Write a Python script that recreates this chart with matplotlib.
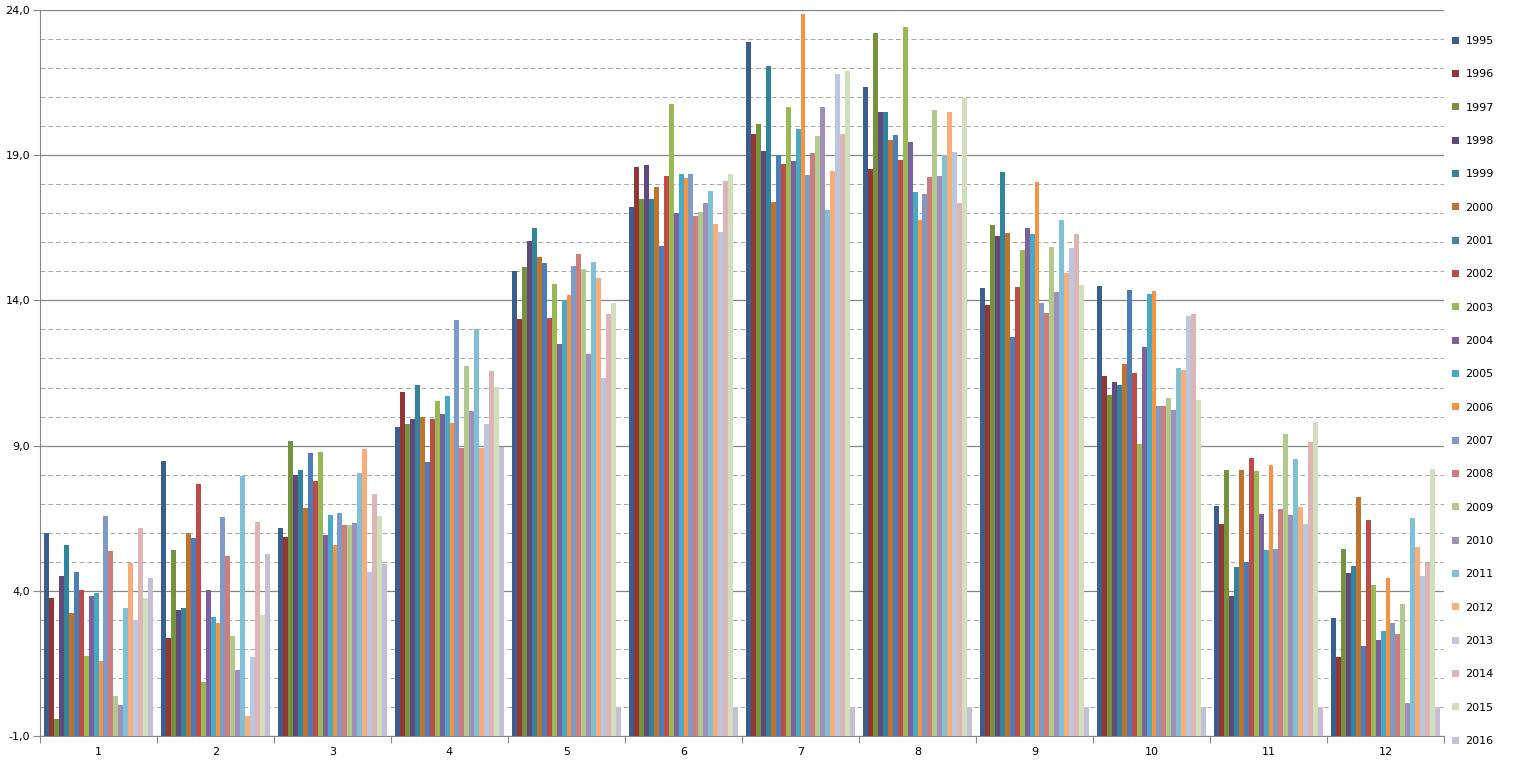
import matplotlib
matplotlib.use("Agg")
import matplotlib.pyplot as plt
from matplotlib.ticker import MultipleLocator, FixedLocator, FuncFormatter, NullFormatter
import numpy as np

# months on the x axis
months = ["1", "2", "3", "4", "5", "6", "7", "8", "9", "10", "11", "12"]

# one list per year, values per month
y1995 = [5.98, 8.47, 6.16, 9.64, 15.01, 17.23, 22.91, 21.34, 14.42, 14.50, 6.92, 3.06]
y1996 = [3.75, 2.37, 5.85, 10.85, 13.37, 18.60, 19.73, 18.51, 13.84, 11.40, 6.30, 1.72]
y1997 = [-0.41, 5.40, 9.16, 9.74, 15.14, 17.49, 20.06, 23.22, 16.60, 10.74, 8.16, 5.44]
y1998 = [4.51, 3.34, 7.99, 9.92, 16.03, 18.67, 19.13, 20.49, 16.23, 11.19, 3.82, 4.61]
y1999 = [5.58, 3.40, 8.16, 11.09, 16.49, 17.49, 22.08, 20.49, 18.43, 11.09, 4.82, 4.85]
y2000 = [3.24, 5.98, 6.85, 9.98, 15.49, 17.89, 17.38, 19.52, 16.31, 11.81, 8.16, 7.23]
y2001 = [4.65, 5.81, 8.75, 8.44, 15.28, 15.87, 19.00, 19.68, 12.73, 14.36, 4.99, 2.10]
y2002 = [4.03, 7.68, 7.78, 9.92, 13.41, 18.30, 18.71, 18.82, 14.45, 11.49, 8.57, 6.44]
y2003 = [1.75, 0.85, 8.78, 10.54, 14.56, 20.77, 20.67, 23.40, 15.73, 9.06, 8.14, 4.20]
y2004 = [3.83, 4.02, 5.92, 10.09, 12.50, 17.00, 18.79, 19.47, 16.49, 12.40, 6.64, 2.31]
y2005 = [3.92, 3.10, 6.61, 10.71, 14.00, 18.36, 19.91, 17.73, 16.29, 14.22, 5.40, 2.62]
y2006 = [1.58, 2.89, 5.58, 9.78, 14.19, 18.23, 23.87, 16.76, 18.08, 14.32, 8.34, 4.44]
y2007 = [6.58, 6.54, 6.68, 13.33, 15.17, 18.36, 18.33, 17.65, 13.90, 10.36, 5.44, 2.89]
y2008 = [5.37, 5.20, 6.27, 8.92, 15.59, 16.89, 19.06, 18.24, 13.56, 10.36, 6.82, 2.51]
y2009 = [0.38, 2.44, 6.27, 11.74, 15.07, 17.06, 19.65, 20.54, 15.83, 10.64, 9.40, 3.55]
y2010 = [0.07, 1.27, 6.33, 10.19, 12.15, 17.37, 20.67, 18.27, 14.29, 10.23, 6.61, 0.14]
y2011 = [3.41, 7.96, 8.06, 13.02, 15.31, 17.77, 17.13, 19.00, 16.77, 11.67, 8.54, 6.51]
y2012 = [4.97, -0.31, 8.88, 8.92, 14.77, 16.64, 18.45, 20.48, 14.95, 11.60, 6.89, 5.51]
y2013 = [3.00, 1.71, 4.65, 9.74, 11.33, 16.36, 21.78, 19.10, 15.81, 13.46, 6.30, 4.51]
y2014 = [6.16, 6.37, 7.33, 11.57, 13.52, 18.11, 19.73, 17.34, 16.29, 13.53, 9.12, 4.96]
y2015 = [3.75, 3.17, 6.58, 11.02, 13.91, 18.36, 21.89, 20.98, 14.52, 10.57, 9.81, 8.19]
y2016 = [4.45, 5.27, 4.92, 8.95, 0.0, 0.0, 0.0, 0.0, 0.0, 0.0, 0.0, 0.0]

years = ["1995", "1996", "1997", "1998", "1999", "2000", "2001", "2002",
         "2003", "2004", "2005", "2006", "2007", "2008", "2009", "2010",
         "2011", "2012", "2013", "2014", "2015", "2016"]
series = [y1995, y1996, y1997, y1998, y1999, y2000, y2001, y2002,
          y2003, y2004, y2005, y2006, y2007, y2008, y2009, y2010,
          y2011, y2012, y2013, y2014, y2015, y2016]

# excel-like palette (dark, base, light, lighter)
colors = ["#3A5F8F", "#943634", "#76923C", "#5F4A7B", "#31849B", "#C0722F",
          "#4A7EBB", "#BE4B48", "#98B954", "#7D60A0", "#46AAC5", "#F69240",
          "#7E9BC8", "#CD7E7C", "#B1C98C", "#A08FB8", "#7EC1D7", "#F9AD7A",
          "#B9C7E0", "#DDB5B4", "#D0E0BC", "#C6BED6"]

fig = plt.figure(figsize=(15.14, 7.63), dpi=100)
ax = fig.add_axes([40/1514, 1 - 736/763, (1444 - 40)/1514, (736 - 10)/763])

ymin, ymax = -1, 24
x = np.arange(1, len(months) + 1)
n = len(series)
w = 0.94 / n

# bars start at the axis minimum, like excel does
handles = []
for i, vals in enumerate(series):
    pos = x - 0.47 + w * (i + 0.5)
    v = np.array(vals)
    b = ax.bar(pos, v - ymin, bottom=ymin, width=w, color=colors[i],
               linewidth=0, zorder=3, label=years[i])
    handles.append(b)

ax.set_xlim(0.5, len(months) + 0.5)
ax.set_ylim(ymin, ymax)

# grid: solid every 5, dashed every 1
ax.yaxis.set_major_locator(FixedLocator([-1, 4, 9, 14, 19, 24]))
ax.yaxis.set_minor_locator(MultipleLocator(1))
ax.yaxis.set_major_formatter(FuncFormatter(lambda v, p: ("%.1f" % v).replace(".", ",")))
ax.yaxis.set_minor_formatter(NullFormatter())
ax.grid(axis="y", which="major", color="#868686", linewidth=0.9, zorder=0)
ax.grid(axis="y", which="minor", color="#A6A6A6", linewidth=0.7, linestyle=(0, (5, 3)), zorder=0)

# category ticks between groups, labels centred
ax.set_xticks(np.arange(0.5, len(months) + 1, 1))
ax.set_xticklabels([])
ax.set_xticks(x, minor=True)
ax.set_xticklabels(months, minor=True)
ax.tick_params(axis="x", which="major", length=5, direction="out", color="#868686")
ax.tick_params(axis="x", which="minor", length=0, labelsize=8, pad=8)
ax.tick_params(axis="y", which="major", length=5, direction="out", color="#868686", labelsize=8, pad=2)
ax.tick_params(axis="y", which="minor", length=0)

for s in ["top", "right"]:
    ax.spines[s].set_visible(False)
ax.spines["left"].set_color("#868686")
ax.spines["bottom"].set_color("#868686")

fig.legend(handles=handles, labels=years, loc="upper left",
           bbox_to_anchor=(1452/1514, 1 - 36/763), frameon=False,
           fontsize=8, labelspacing=2.1, handlelength=0.6, handleheight=0.6,
           handletextpad=0.6, borderaxespad=0, borderpad=0)

fig.savefig("out.png", dpi=100)
